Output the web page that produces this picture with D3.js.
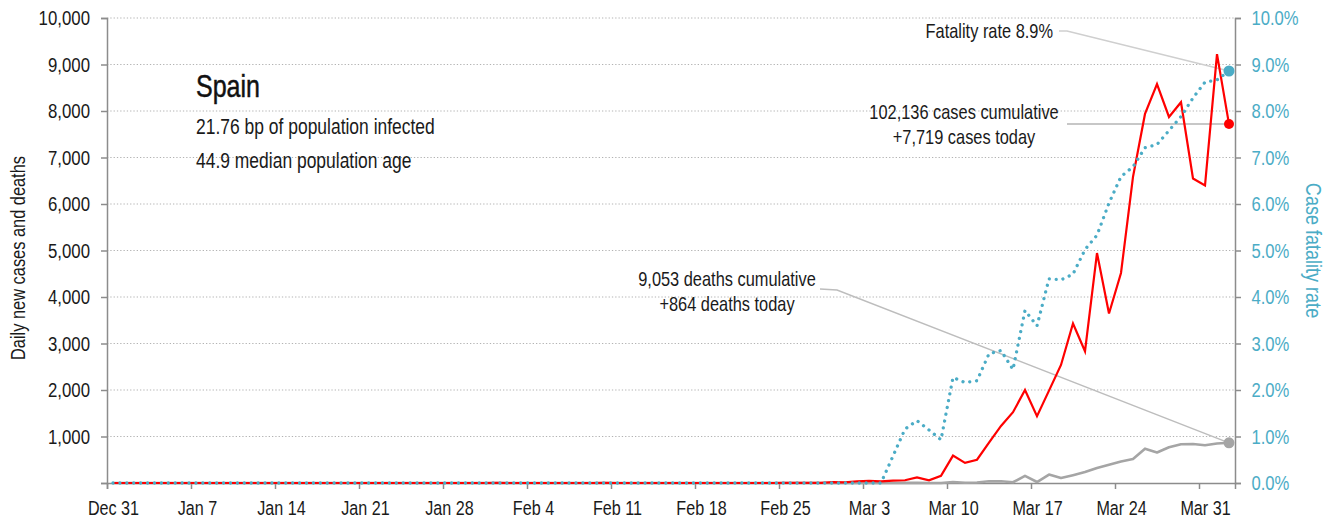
<!DOCTYPE html>
<html><head><meta charset="utf-8">
<script src="https://cdn.jsdelivr.net/npm/d3@7"></script>
<style>
body{margin:0;background:#fff;}
svg{display:block;font-family:"Liberation Sans",Arial,sans-serif;}
</style></head>
<body><svg id="c" width="1336" height="525"></svg>
<script>
// ---- data (daily, Dec 31 2019 .. Apr 2 2020) ----
const startDate = "2019-12-31";
const newCases = [
  0,0,0,0,0,0,0,
  0,0,0,0,0,0,0,
  0,0,0,0,0,0,0,
  0,0,0,0,0,0,0,
  0,0,0,0,1,0,0,
  0,0,0,0,0,0,1,
  0,0,0,0,0,0,0,
  0,0,0,0,0,0,0,
  4,4,2,2,17,13,38,
  45,37,53,59,122,58,156,
  590,433,500,869,1227,1522,2000,
  1438,1987,2538,3431,2833,4946,3646,
  4517,6584,7937,8578,7871,8189,6549,
  6398,9222,7719
];
const newDeaths = [
  0,0,0,0,0,0,0,
  0,0,0,0,0,0,0,
  0,0,0,0,0,0,0,
  0,0,0,0,0,0,0,
  0,0,0,0,0,0,0,
  0,0,0,0,0,0,0,
  0,0,0,0,0,0,0,
  0,0,0,0,0,0,0,
  0,0,0,0,0,0,0,
  0,0,1,2,2,0,1,
  22,7,12,36,37,16,152,
  21,182,107,169,235,324,394,
  462,514,738,655,769,832,838,
  812,849,864
];
const fatalityRate = [ // percent
  0,0,0,0,0,0,0,
  0,0,0,0,0,0,0,
  0,0,0,0,0,0,0,
  0,0,0,0,0,0,0,
  0,0,0,0,0,0,0,
  0,0,0,0,0,0,0,
  0,0,0,0,0,0,0,
  0,0,0,0,0,0,0,
  0,0,0,0,0,0,0,
  0,0,0.58,1.16,1.34,1.14,0.93,
  2.27,2.16,2.20,2.78,2.85,2.44,3.71,
  3.38,4.39,4.37,4.49,5.02,5.33,6.02,
  6.59,6.80,7.21,7.28,7.58,7.88,8.28,
  8.62,8.67,8.86
];
const xTickLabels = ["Dec 31","Jan 7","Jan 14","Jan 21","Jan 28","Feb 4","Feb 11","Feb 18","Feb 25","Mar 3","Mar 10","Mar 17","Mar 24","Mar 31"];
const leftTicks = [0,1000,2000,3000,4000,5000,6000,7000,8000,9000,10000];
const rightTicks = [0,0.01,0.02,0.03,0.04,0.05,0.06,0.07,0.08,0.09,0.10];
const titleText = "Spain";
const infoLines = ["21.76 bp of population infected","44.9 median population age"];
const fatalityNote = "Fatality rate 8.9%";
const caseNotes = ["102,136 cases cumulative","+7,719 cases today"];
const deathNotes = ["9,053 deaths cumulative","+864 deaths today"];

// ---- drawing ----
const SX = 0.82; // horizontal condensing of the text face
const svg = d3.select("#c");
const parse = d3.utcParse("%Y-%m-%d");
const t0 = parse(startDate);
const dates = newCases.map((_, i) => d3.utcHour.offset(d3.utcDay.offset(t0, i), 12));
const tickDates = xTickLabels.map((_, i) => d3.utcDay.offset(t0, 7 * i));

const L = 107, R = 1235, T = 18, B = 483;
const x = d3.scaleUtc().domain([t0, d3.utcDay.offset(t0, newCases.length)]).range([L, R]);
const y = d3.scaleLinear().domain([0, 10000]).range([B, T]);
const yR = d3.scaleLinear().domain([0, 0.10]).range([B, T]);

const BLUE = "#4bacc6", RED = "#ff0000", GREY = "#a5a5a5", AXIS = "#8c8c8c", TXT = "#1a1a1a";

function ctext(g, tx, ty, rot, str, size, fill, anchor) {
  return g.append("text")
    .attr("transform", `translate(${tx},${ty})` + (rot ? ` rotate(${rot})` : "") + ` scale(${SX},1)`)
    .attr("text-anchor", anchor || "start").attr("font-size", size).attr("fill", fill).text(str);
}

// gridlines
svg.append("g").selectAll("line").data(leftTicks.slice(1)).join("line")
  .attr("x1", L).attr("x2", R).attr("y1", d => y(d)).attr("y2", d => y(d))
  .attr("stroke", "#b3b3b3").attr("stroke-width", 1).attr("stroke-dasharray", "1.3,2");

// left axis
const gl = svg.append("g").attr("transform", `translate(${L},0)`)
  .call(d3.axisLeft(y).tickValues(leftTicks).tickSize(6).tickPadding(11)
    .tickFormat(d => d === 0 ? "" : d3.format(",")(d)));
gl.selectAll("text").attr("font-size", 20.5).attr("fill", TXT).attr("font-family", null)
  .attr("x", -17 / SX).attr("transform", `scale(${SX},1)`);

// right axis
const gr = svg.append("g").attr("transform", `translate(${R},0)`)
  .call(d3.axisRight(yR).tickValues(rightTicks).tickSize(6).tickPadding(11)
    .tickFormat(d3.format(".1%")));
gr.selectAll("text").attr("font-size", 20.3).attr("fill", BLUE).attr("font-family", null)
  .attr("x", 16.5 / SX).attr("transform", `scale(${SX},1)`);

// bottom axis (labels sit half a day right of the tick, as in the original)
const gb = svg.append("g").attr("transform", `translate(0,${B})`)
  .call(d3.axisBottom(x).tickValues(tickDates).tickSize(6).tickPadding(12)
    .tickFormat((d, i) => xTickLabels[i]));
gb.selectAll("text").attr("font-size", 19.7).attr("fill", TXT).attr("font-family", null)
  .attr("x", 6 / SX).attr("transform", `scale(${SX},1)`);

[gl, gr, gb].forEach(g => {
  g.select(".domain").attr("stroke", AXIS).attr("stroke-width", 1.5).attr("fill", "none");
  g.selectAll(".tick line").attr("stroke", AXIS).attr("stroke-width", 1.5);
});

// axis titles
ctext(svg, 25, 258, -90, "Daily new cases and deaths", 20, TXT, "middle");
ctext(svg, 1306, 250.5, 90, "Case fatality rate", 22, BLUE, "middle");

// leader lines
const li = newCases.length - 1;
const lx = x(dates[li]);
svg.append("polyline").attr("fill", "none").attr("stroke", "#cfcfcf").attr("stroke-width", 1.5)
  .attr("points", `1059,31 1067,31 ${lx},${yR(fatalityRate[li] / 100)}`);
svg.append("polyline").attr("fill", "none").attr("stroke", "#b5b5b5").attr("stroke-width", 1.5)
  .attr("points", `1067,124 ${lx},${y(newCases[li])}`);
svg.append("polyline").attr("fill", "none").attr("stroke", "#bdbdbd").attr("stroke-width", 1.5)
  .attr("points", `820,289 837,290 ${lx},${y(newDeaths[li])}`);

// series
const lineL = d3.line().x((d, i) => x(dates[i])).y(d => y(d));
svg.append("path").datum(newDeaths).attr("d", lineL)
  .attr("fill", "none").attr("stroke", GREY).attr("stroke-width", 2.6).attr("stroke-linejoin", "round");
svg.append("path").datum(newCases).attr("d", lineL)
  .attr("fill", "none").attr("stroke", RED).attr("stroke-width", 2.2);
const lineR = d3.line().x((d, i) => x(dates[i])).y(d => yR(d / 100));
svg.append("path").datum(fatalityRate).attr("d", lineR)
  .attr("fill", "none").attr("stroke", BLUE).attr("stroke-width", 3.3)
  .attr("stroke-linecap", "round").attr("stroke-dasharray", "0.01,6.9");

// end markers
svg.append("circle").attr("cx", lx).attr("cy", y(newDeaths[li])).attr("r", 5.5).attr("fill", GREY);
svg.append("circle").attr("cx", lx).attr("cy", y(newCases[li])).attr("r", 5).attr("fill", RED);
svg.append("circle").attr("cx", lx).attr("cy", yR(fatalityRate[li] / 100)).attr("r", 5.5).attr("fill", BLUE);

// title & info
ctext(svg, 196, 97, 0, titleText, 30.5, "#111").attr("stroke", "#111").attr("stroke-width", 0.5);
infoLines.forEach((s, i) => ctext(svg, 196, 134 + i * 34, 0, s, 21.3, TXT));

// notes
ctext(svg, 1053, 38, 0, fatalityNote, 20, TXT, "end");
caseNotes.forEach((s, i) => ctext(svg, 964, 119 + i * 24.5, 0, s, 20, TXT, "middle"));
deathNotes.forEach((s, i) => ctext(svg, 727, 286 + i * 24.5, 0, s, 20, TXT, "middle"));
</script></body></html>
